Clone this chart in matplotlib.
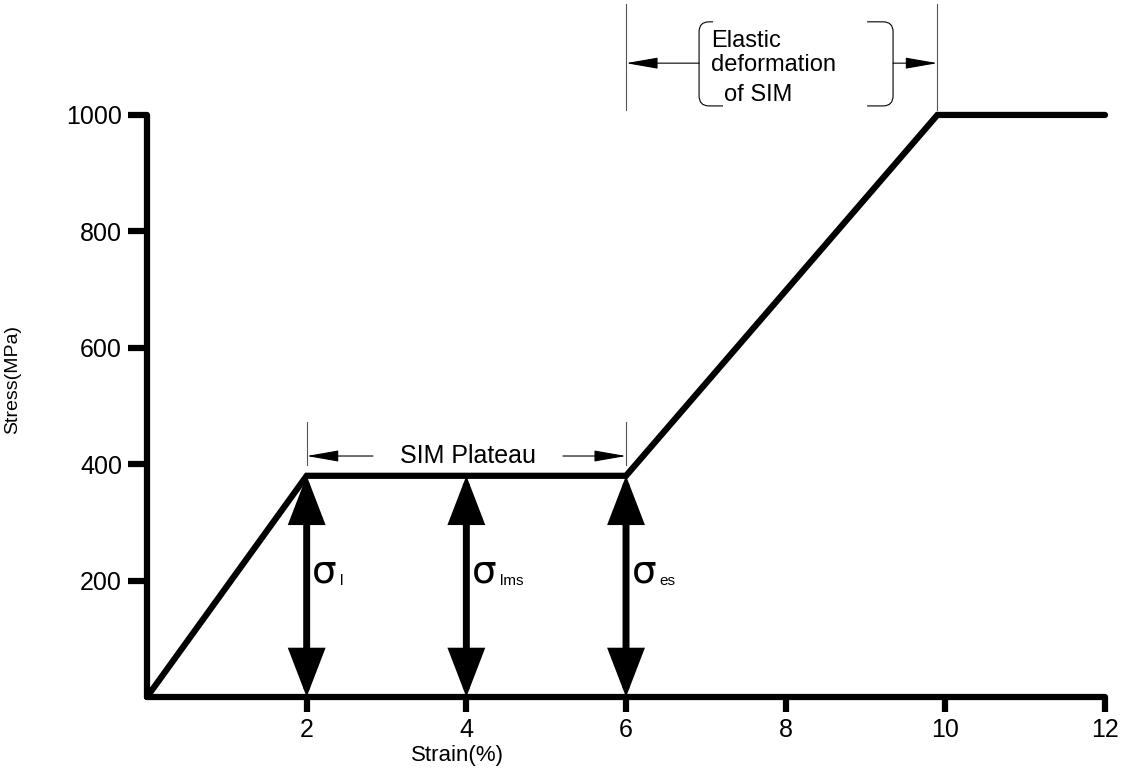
import matplotlib
matplotlib.use("Agg")
import matplotlib.pyplot as plt
from matplotlib.path import Path
from matplotlib.patches import PathPatch

plt.rcParams['font.family'] = ['Liberation Sans', 'DejaVu Sans']

# stress-strain curve of the SMA wire
strain = [0, 2, 6, 9.9, 12]
stress = [0, 380, 380, 1000, 1000]

xticks = [2, 4, 6, 8, 10, 12]
yticks = [200, 400, 600, 800, 1000]

# double arrows marking the stress levels on the plateau
arrow_strain = [2, 4, 6]
sigma_subs = ['l', 'lms', 'es']

fig = plt.figure(figsize=(11.3, 7.72), dpi=100)
ax = fig.add_axes([0.1301, 0.0972, 0.8478, 0.7539])

ax.plot(strain, stress, color='black', lw=4.5, solid_joinstyle='miter',
        solid_capstyle='round', clip_on=False, zorder=3)

ax.set_xlim(0, 12)
ax.set_ylim(0, 1000)
ax.set_xticks(xticks)
ax.set_yticks(yticks)
ax.set_xticklabels([str(t) for t in xticks])
ax.set_yticklabels([str(t) for t in yticks])

for side in ['top', 'right']:
    ax.spines[side].set_visible(False)
for side in ['left', 'bottom']:
    ax.spines[side].set_linewidth(4.5)
    ax.spines[side].set_capstyle('round')

ax.tick_params(axis='y', length=14, width=4.5, direction='out', pad=4, labelsize=18)
ax.tick_params(axis='x', length=11, width=4.5, direction='out', pad=4, labelsize=18)

ax.set_xlabel('Strain(%)', fontsize=16)
ax.xaxis.set_label_coords(0.324, -0.083)
ax.set_ylabel('Stress(MPa)', fontsize=14)
ax.yaxis.set_label_coords(-0.131, 0.545)

# vertical double arrows with sigma labels
for x, sub in zip(arrow_strain, sigma_subs):
    ax.annotate('', xy=(x, 380), xytext=(x, 0),
                arrowprops=dict(arrowstyle='<|-|>,head_length=26,head_width=10',
                                mutation_scale=1, color='black', lw=5,
                                shrinkA=0, shrinkB=0, joinstyle='miter'),
                zorder=4, annotation_clip=False)
    ax.text(x + 0.07, 215, '\u03c3', fontsize=28, family='DejaVu Sans',
            ha='left', va='center')
    ax.text(x + 0.42, 200, sub, fontsize=11, ha='left', va='center')

dim_color = '#555555'

# "SIM Plateau" dimension
for x in [2, 6]:
    ax.plot([x, x], [399, 473], color=dim_color, lw=0.8, clip_on=False)
for x0, x1 in [(2.83, 2), (5.21, 6)]:
    ax.annotate('', xy=(x1, 414), xytext=(x0, 414),
                arrowprops=dict(arrowstyle='-|>,head_length=20,head_width=3.5',
                                mutation_scale=1, color='black', lw=0.8,
                                shrinkA=0, shrinkB=0),
                annotation_clip=False)
ax.text(4.02, 414, 'SIM Plateau', fontsize=18, ha='center', va='center')

# "Elastic deformation of SIM" dimension above the plot
for x in [6, 9.9]:
    ax.plot([x, x], [1008, 1190], color=dim_color, lw=0.8, clip_on=False)
for x0, x1 in [(6.915, 6), (9.345, 9.9)]:
    ax.annotate('', xy=(x1, 1089), xytext=(x0, 1089),
                arrowprops=dict(arrowstyle='-|>,head_length=20,head_width=3.5',
                                mutation_scale=1, color='black', lw=0.8,
                                shrinkA=0, shrinkB=0),
                annotation_clip=False)

left_br = Path([(7.09, 1160), (7.04, 1160), (6.915, 1160), (6.915, 1143),
                (6.915, 1033), (6.915, 1015.5), (7.04, 1015.5), (7.215, 1015.5)],
               [Path.MOVETO, Path.LINETO, Path.CURVE3, Path.CURVE3,
                Path.LINETO, Path.CURVE3, Path.CURVE3, Path.LINETO])
right_br = Path([(9.02, 1160), (9.22, 1160), (9.345, 1160), (9.345, 1143),
                 (9.345, 1033), (9.345, 1015.5), (9.22, 1015.5), (9.02, 1015.5)],
                [Path.MOVETO, Path.LINETO, Path.CURVE3, Path.CURVE3,
                 Path.LINETO, Path.CURVE3, Path.CURVE3, Path.LINETO])
for p in [left_br, right_br]:
    ax.add_patch(PathPatch(p, fill=False, edgecolor='black', lw=0.8, clip_on=False))

ax.text(7.07, 1127, 'Elastic', fontsize=17, ha='left', va='center')
ax.text(7.07, 1085, 'deformation', fontsize=17, ha='left', va='center')
ax.text(7.23, 1034, 'of SIM', fontsize=17, ha='left', va='center')

fig.savefig('out.png', dpi=100)
